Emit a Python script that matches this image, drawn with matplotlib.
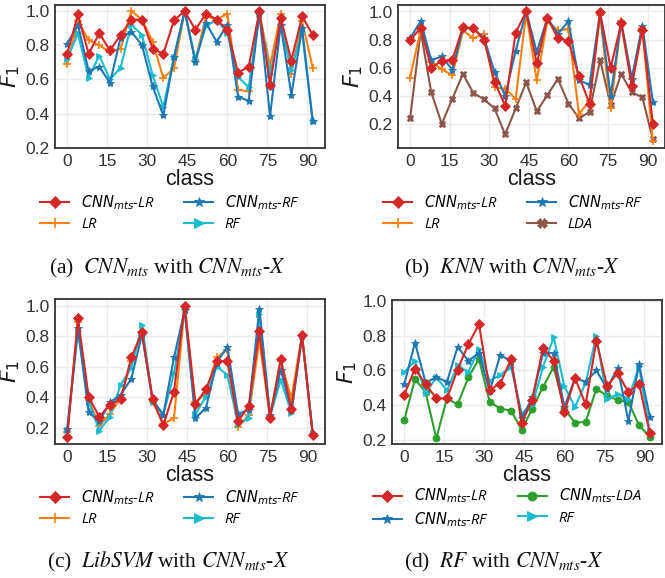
import matplotlib
matplotlib.use("Agg")
import matplotlib.pyplot as plt

# class ids on the x axis
classes = list(range(0, 93, 4))

# (a) CNN_mts with CNN_mts-X
a_cnn_lr = [0.75, 0.98, 0.75, 0.87, 0.77, 0.86, 0.95, 0.95, 0.78, 0.75, 0.945, 1.0,
            0.89, 0.985, 0.95, 0.89, 0.64, 0.675, 1.0, 0.57, 0.96, 0.71, 0.97, 0.86]
a_lr = [0.69, 0.94, 0.83, 0.80, 0.76, 0.78, 1.0, 0.95, 0.82, 0.61, 0.665, 1.0,
        0.71, 0.97, 0.95, 0.985, 0.54, 0.53, 0.99, 0.68, 0.98, 0.635, 0.94, 0.67]
a_cnn_rf = [0.81, 0.92, 0.65, 0.675, 0.58, 0.845, 0.88, 0.80, 0.56, 0.39, 0.73, 1.0,
            0.70, 0.93, 0.82, 0.92, 0.50, 0.475, 0.985, 0.385, 0.92, 0.51, 0.90, 0.355]
a_rf = [0.72, 0.87, 0.61, 0.74, 0.60, 0.67, 0.92, 0.86, 0.625, 0.44, 0.73, 1.0,
        0.72, 0.91, 0.95, 0.87, 0.615, 0.555, 0.985, 0.63, 0.92, 0.655, 0.88, 0.355]

# (b) KNN with CNN_mts-X
b_cnn_lr = [0.80, 0.88, 0.60, 0.65, 0.655, 0.89, 0.88, 0.80, 0.50, 0.33, 0.85, 1.0,
            0.63, 0.955, 0.81, 0.79, 0.54, 0.345, 0.995, 0.60, 0.915, 0.47, 0.87, 0.20]
b_lr = [0.53, 0.87, 0.64, 0.59, 0.545, 0.865, 0.81, 0.84, 0.46, 0.45, 0.38, 0.99,
        0.51, 0.93, 0.865, 0.875, 0.27, 0.365, 0.975, 0.31, 0.93, 0.52, 0.885, 0.075]
b_cnn_rf = [0.81, 0.93, 0.655, 0.68, 0.585, 0.88, 0.88, 0.81, 0.57, 0.40, 0.72, 1.0,
            0.71, 0.955, 0.84, 0.93, 0.51, 0.48, 0.995, 0.40, 0.925, 0.52, 0.90, 0.355]
b_lda = [0.24, 0.86, 0.425, 0.20, 0.38, 0.555, 0.42, 0.375, 0.31, 0.125, 0.31, 0.495,
         0.29, 0.405, 0.52, 0.345, 0.24, 0.285, 0.655, 0.335, 0.555, 0.425, 0.39, 0.09]

# (c) LibSVM with CNN_mts-X
c_cnn_lr = [0.135, 0.92, 0.40, 0.27, 0.35, 0.385, 0.66, 0.825, 0.385, 0.215, 0.435, 1.0,
            0.355, 0.45, 0.635, 0.635, 0.24, 0.34, 0.83, 0.265, 0.65, 0.32, 0.805, 0.15]
c_lr = [0.17, 0.89, 0.38, 0.21, 0.29, 0.39, 0.635, 0.825, 0.37, 0.225, 0.26, 0.99,
        0.365, 0.425, 0.66, 0.71, 0.205, 0.28, 0.77, 0.275, 0.635, 0.39, 0.81, 0.16]
c_cnn_rf = [0.19, 0.85, 0.30, 0.24, 0.365, 0.415, 0.52, 0.81, 0.38, 0.285, 0.66, 0.97,
            0.26, 0.33, 0.625, 0.73, 0.29, 0.315, 0.98, 0.28, 0.58, 0.315, 0.80, 0.155]
c_rf = [0.185, 0.835, 0.37, 0.18, 0.27, 0.48, 0.59, 0.875, 0.37, 0.28, 0.555, 0.975,
        0.29, 0.40, 0.60, 0.545, 0.225, 0.26, 0.945, 0.27, 0.515, 0.295, 0.80, 0.165]

# (d) RF with CNN_mts-X
d_cnn_lr = [0.46, 0.61, 0.52, 0.44, 0.44, 0.605, 0.75, 0.865, 0.49, 0.525, 0.665, 0.30,
            0.43, 0.73, 0.655, 0.36, 0.555, 0.405, 0.77, 0.51, 0.585, 0.475, 0.525, 0.24]
d_cnn_rf = [0.52, 0.76, 0.53, 0.56, 0.535, 0.735, 0.655, 0.70, 0.48, 0.69, 0.65, 0.325,
            0.445, 0.70, 0.70, 0.39, 0.555, 0.535, 0.60, 0.495, 0.615, 0.31, 0.635, 0.335]
d_cnn_lda = [0.315, 0.55, 0.475, 0.21, 0.44, 0.405, 0.56, 0.665, 0.42, 0.38, 0.37, 0.26,
             0.38, 0.505, 0.62, 0.38, 0.30, 0.305, 0.495, 0.455, 0.43, 0.42, 0.285, 0.22]
d_rf = [0.59, 0.655, 0.47, 0.56, 0.485, 0.63, 0.59, 0.725, 0.54, 0.575, 0.62, 0.355,
        0.40, 0.62, 0.79, 0.51, 0.39, 0.53, 0.80, 0.435, 0.465, 0.435, 0.625, 0.25]

CNN_LR = r"$CNN_{mts}$-LR"
CNN_RF = r"$CNN_{mts}$-RF"
CNN_LDA = r"$CNN_{mts}$-LDA"

RED, ORANGE, BLUE, CYAN = "#d62728", "#ff7f0e", "#1f77b4", "#17becf"
BROWN, GREEN = "#8c564b", "#2ca02c"

plt.rcParams["font.family"] = ["Liberation Sans", "DejaVu Sans"]
plt.rcParams["mathtext.fontset"] = "dejavusans"

fig = plt.figure(figsize=(6.65, 5.78), dpi=100)
W, H = 665.0, 578.0


def make_axes(left, top, right, bottom):
    return fig.add_axes([left / W, 1 - bottom / H, (right - left) / W, (bottom - top) / H])


def style(ax, ylim=None):
    ax.set_facecolor("white")
    ax.grid(True, color="#ebebeb", linewidth=1.0)
    ax.set_axisbelow(True)
    for sp in ax.spines.values():
        sp.set_color("#333333")
        sp.set_linewidth(1.3)
    ax.tick_params(length=0, labelsize=12.5, colors="#333333", pad=4)
    ax.set_xticks([0, 15, 30, 45, 60, 75, 90])
    ax.set_yticks([0.2, 0.4, 0.6, 0.8, 1.0])
    ax.set_yticklabels(["0.2", "0.4", "0.6", "0.8", "1.0"])
    ax.set_xlim(-4.6, 96.6)
    if ylim is not None:
        ax.set_ylim(*ylim)
    ax.set_xlabel("class", fontsize=15.5, labelpad=0, color="#1a1a1a")
    ax.set_ylabel(r"$F_1$", fontsize=16, labelpad=2, color="#1a1a1a")


MS = {"D": 4.8, "*": 6, "+": 6, ">": 5, "X": 5, "o": 5}


def line(ax, y, color, marker, label, z=2):
    ax.plot(classes, y, color=color, marker=marker, markersize=MS[marker], linewidth=1.5,
            label=label, zorder=z, markeredgewidth=1.2 if marker == "+" else 0.6)


def legend(ax, handles_order, cx, cy):
    h, l = ax.get_legend_handles_labels()
    idx = [l.index(name) for name in handles_order]
    leg = fig.legend([h[i] for i in idx], [l[i] for i in idx], loc="center",
                     bbox_to_anchor=(cx / W, 1 - cy / H), ncol=2, frameon=False,
                     prop={"style": "italic", "size": 10.5, "family": "Open Sans"},
                     handlelength=2.0, handletextpad=0.8, columnspacing=2.0,
                     labelspacing=0.35, borderpad=0, markerscale=1.3)
    return leg


# panel a
ax = make_axes(55, 5, 325, 148)
line(ax, a_lr, ORANGE, "+", "LR")
line(ax, a_rf, CYAN, ">", "RF")
line(ax, a_cnn_rf, BLUE, "*", CNN_RF)
line(ax, a_cnn_lr, RED, "D", CNN_LR, z=3)
style(ax, (0.2, 1.035))
legend(ax, [CNN_LR, "LR", CNN_RF, "RF"], 170, 213)

# panel b
ax = make_axes(398, 5, 665, 148)
line(ax, b_lda, BROWN, "X", "LDA")
line(ax, b_lr, ORANGE, "+", "LR")
line(ax, b_cnn_rf, BLUE, "*", CNN_RF)
line(ax, b_cnn_lr, RED, "D", CNN_LR, z=3)
style(ax)
legend(ax, [CNN_LR, "LR", CNN_RF, "LDA"], 513, 213)

# panel c
ax = make_axes(55, 299, 325, 444)
line(ax, c_lr, ORANGE, "+", "LR")
line(ax, c_rf, CYAN, ">", "RF")
line(ax, c_cnn_rf, BLUE, "*", CNN_RF)
line(ax, c_cnn_lr, RED, "D", CNN_LR, z=3)
style(ax)
legend(ax, [CNN_LR, "LR", CNN_RF, "RF"], 170, 508)

# panel d
ax = make_axes(392, 300, 662, 444)
line(ax, d_cnn_lda, GREEN, "o", CNN_LDA)
line(ax, d_rf, CYAN, ">", "RF")
line(ax, d_cnn_rf, BLUE, "*", CNN_RF)
line(ax, d_cnn_lr, RED, "D", CNN_LR, z=3)
style(ax, (0.178, 1.004))
legend(ax, [CNN_LR, CNN_RF, CNN_LDA, "RF"], 507, 508)

# captions
cap = dict(ha="center", va="center", fontsize=15.5, family="Liberation Serif",
           math_fontfamily="stix", color="#111111")
fig.text(167 / W, 1 - 268 / H, r"(a)  $CNN_{mts}$ with $CNN_{mts}$-$X$", **cap)
fig.text(512 / W, 1 - 268 / H, r"(b)  $KNN$ with $CNN_{mts}$-$X$", **cap)
fig.text(168 / W, 1 - 562 / H, r"(c)  $LibSVM$ with $CNN_{mts}$-$X$", **cap)
fig.text(504 / W, 1 - 562 / H, r"(d)  $RF$ with $CNN_{mts}$-$X$", **cap)

fig.savefig("out.png", dpi=100, facecolor="white")
